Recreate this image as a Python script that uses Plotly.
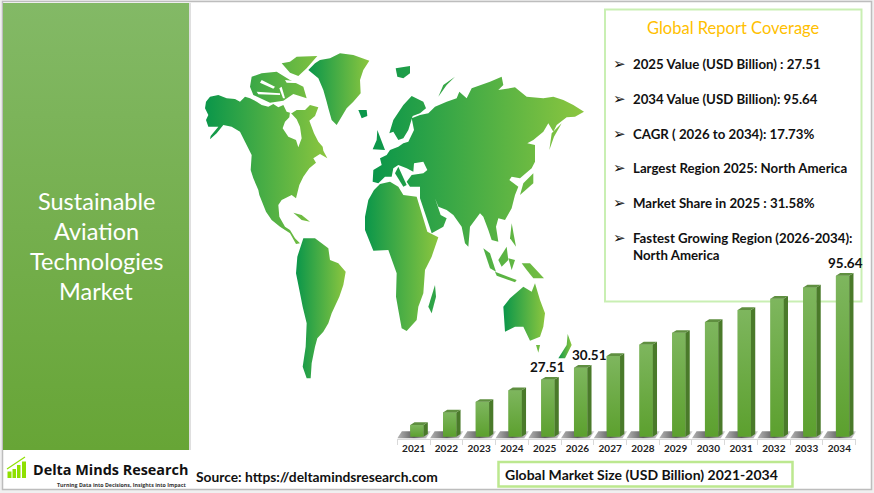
import plotly.graph_objects as go

years = [2021, 2022, 2023, 2024, 2025, 2026, 2027, 2028, 2029, 2030, 2031, 2032, 2033, 2034]
# the picture is not drawn to scale, so these are read from bar heights against the 95.64 bar
bar_values = [6.9, 14.4, 20.7, 27.6, 33.9, 41.0, 47.9, 54.8, 61.7, 68.2, 75.3, 82.0, 88.7, 95.64]
printed_labels = {2025: "27.51", 2026: "30.51", 2034: "95.64"}

title_lines = ["Sustainable", "Aviation", "Technologies", "Market"]
coverage_title = "Global Report Coverage"
coverage_items = ["2025 Value (USD Billion) : 27.51",
                  "2034 Value (USD Billion): 95.64",
                  "CAGR ( 2026 to 2034): 17.73%",
                  "Largest Region 2025: North America",
                  "Market Share in 2025 : 31.58%",
                  "Fastest Growing Region (2026-2034):"]
coverage_tail = "North America"
source_text = "Source: https://deltamindsresearch.com"
size_caption = "Global Market Size (USD Billion) 2021-2034"

# map outlines, traced by hand at 3x over the region starting at (190, 30)
north_america = [(45,235),(48,215),(60,200),(85,195),(110,205),(135,207),(150,215),(165,200),(180,205),(200,215),(215,225),
                 (235,230),(250,222),(265,232),(280,225),(290,245),(305,250),(320,240),(345,240),(360,225),(385,232),(375,258),
                 (358,272),(372,310),(385,335),(398,350),(400,362),(412,385),(390,372),(370,385),(378,398),(358,415),(340,440),
                 (328,465),(318,505),(305,495),(275,510),(265,525),(268,560),(285,590),(300,600),(315,625),(330,640),(318,642),
                 (300,610),(270,590),(245,570),(228,545),(208,495),(205,480),(190,445),(182,420),(185,375),(165,335),(150,305),
                 (125,290),(100,285),(80,310),(60,328),(62,318),(85,290),(55,290),(48,270),(55,255)]
hudson_bay = [(300,246),(320,268),(330,290),(335,325),(325,352),(318,330),(295,320),(278,295),(285,275),(298,262)]
arctic_west = [(185,140),(215,130),(260,125),(300,150),(340,170),(350,205),(310,192),(280,212),(240,218),(190,195),(180,170)]
arctic_cuts = [[(215,150),(255,170),(250,176),(210,158)], [(200,185),(270,190),(270,195),(205,193)],
               [(285,150),(335,155),(335,160),(290,158)], [(275,170),(285,205),(279,205),(268,175)]]
baffin = [(275,100),(300,95),(320,80),(382,78),(350,115),(325,138),(300,128)]
greenland = [(355,120),(375,100),(390,90),(420,85),(450,70),(490,75),(538,92),(520,120),(510,150),(512,190),(490,215),(470,235),
             (440,285),(425,270),(415,235),(410,215),(400,180),(385,145)]
iceland = [(505,240),(530,240),(532,258),(515,265)]
svalbard = [(617,115),(660,108),(660,130),(640,145),(622,140)]
cuba = [(310,548),(335,555),(360,575),(335,570)]
south_america = [(340,625),(375,625),(395,640),(415,655),(420,690),(445,700),(467,725),(460,765),(448,800),(425,850),(415,880),
                 (400,905),(382,925),(375,950),(365,1000),(362,1045),(350,1045),(338,1010),(347,950),(350,880),(338,830),(330,790),
                 (318,730),(322,680)]
africa = [(535,510),(552,480),(570,462),(600,455),(625,470),(640,495),(680,500),(712,605),(745,622),(725,680),(705,720),(700,790),
          (685,830),(680,870),(650,903),(635,895),(625,840),(618,800),(620,730),(595,660),(550,662),(525,600),(525,560)]
madagascar = [(735,765),(738,800),(725,850),(715,830)]
eurasia = [(550,420),(575,405),(570,385),(590,375),(600,360),(625,350),(640,340),(655,335),(672,300),(665,265),(690,255),(715,250),
           (735,230),(770,215),(800,205),(808,185),(830,205),(845,175),(900,155),(935,140),(940,165),(925,180),(975,172),(1010,200),
           (1060,205),(1090,200),(1120,210),(1150,225),(1182,245),(1155,260),(1130,262),(1100,285),(1090,305),(1075,280),(1060,305),
           (1030,330),(1012,340),(1035,345),(1035,395),(1025,415),(990,445),(965,440),(958,450),(985,470),(975,495),(965,535),(945,570),
           (925,565),(918,590),(925,635),(905,630),(895,600),(880,560),(870,550),(840,590),(835,650),(825,640),(815,590),(790,555),
           (770,540),(745,530),(735,505),(752,555),(770,565),(760,590),(725,610),(722,600),(690,505),(690,470),(660,470),(650,455),
           (665,435),(700,430),(712,420),(700,395),(672,400),(670,425),(650,415),(625,405),(610,415),(605,440),(585,440),(565,460),(548,455)]
italy = [(625,410),(650,465),(640,470),(615,430)]
scandinavia = [(598,310),(610,270),(640,225),(665,198),(700,215),(708,235),(690,250),(668,258),(655,300),(640,325),(625,330),(610,305)]
britain = [(562,300),(585,360),(548,358),(560,330)]
novaya = [(745,200),(760,165),(795,140),(770,165)]
sakhalin = [(1078,360),(1085,310),(1115,280),(1092,320)]
japan = [(990,495),(1000,460),(1030,430),(1030,460)]
sumatra = [(880,655),(900,670),(918,725),(900,715)]
borneo = [(925,690),(950,650),(955,690),(935,710)]
java = [(915,725),(980,750),(975,757),(920,737)]
philippines = [(965,580),(978,650),(960,625)]
sulawesi = [(955,685),(975,690),(965,720)]
new_guinea = [(995,700),(1020,700),(1062,745),(1030,745),(1010,720)]
australia = [(940,830),(960,805),(1000,770),(1025,785),(1035,760),(1050,810),(1065,850),(1060,890),(1050,920),(1020,932),(1000,890),
             (975,890),(945,905)]
tasmania = [(1038,945),(1050,945),(1045,968)]
new_zealand = [(1133,912),(1145,945),(1125,985),(1105,985),(1130,945)]

own_gradient = [north_america, greenland, south_america, africa, eurasia, australia, new_zealand]
with_america = [arctic_west, baffin, cuba]
with_eurasia = [iceland, svalbard, madagascar, italy, scandinavia, britain, novaya, sakhalin, japan, sumatra, borneo, java,
                philippines, sulawesi, new_guinea, tasmania]
water_shapes = [hudson_bay] + arctic_cuts

GREEN_L = "#0A964A"
GREEN_R = "#8CC63F"


def to_page(outline):
    xs = [190 + p[0] / 3 for p in outline]
    ys = [30 + p[1] / 3 for p in outline]
    return xs + xs[:1], ys + ys[:1]


def land(outline, span=None):
    xs, ys = to_page(outline)
    grad = dict(type="horizontal", colorscale=[[0, GREEN_L], [1, GREEN_R]])
    if span:
        grad["start"] = span[0]
        grad["stop"] = span[1]
    return go.Scatter(x=xs, y=ys, mode="none", fill="toself", hoverinfo="skip", showlegend=False, fillgradient=grad)


def flat(xs, ys, color, axes=("x", "y")):
    return go.Scatter(x=xs, y=ys, mode="none", fill="toself", fillcolor=color, hoverinfo="skip",
                      showlegend=False, xaxis=axes[0], yaxis=axes[1])


def page_text(x, y, text, size, color="#111111", anchor="left", font="Lato", bold=False):
    label = "<b>" + text + "</b>" if bold else text
    return dict(x=x, y=y, xref="x", yref="y", text=label, showarrow=False, xanchor=anchor, yanchor="middle",
                font=dict(family=font, size=size, color=color))


fig = go.Figure()

# page furniture
fig.add_trace(go.Scatter(x=[3, 189, 189, 3, 3], y=[3, 3, 450, 450, 3], mode="none", fill="toself", hoverinfo="skip",
                         showlegend=False,
                         fillgradient=dict(type="vertical", colorscale=[[0, "#67A536"], [1, "#83B966"]])))
for shape in own_gradient:
    fig.add_trace(land(shape))
for shape in with_america:
    fig.add_trace(land(shape, (205, 330)))
for shape in with_eurasia:
    fig.add_trace(land(shape, (373, 584)))
for shape in water_shapes:
    xs, ys = to_page(shape)
    fig.add_trace(flat(xs, ys, "#FFFFFF"))

# bars, on their own axes so the value scale does the placing
BAR_OFFSET = -0.104
BAR_W = 0.406
DEPTH_X = 0.13
DEPTH_Y = 1.6

for yr in years:
    fig.add_trace(go.Scatter(x=[yr - 0.5, yr + 0.38, yr + 0.52, yr - 0.36, yr - 0.5], y=[-0.9, -0.9, 3.2, 3.2, -0.9],
                             mode="none", fill="toself", hoverinfo="skip", showlegend=False, xaxis="x2", yaxis="y2",
                             fillgradient=dict(type="horizontal", colorscale=[[0, "#B5B5B5"], [0.5, "#5E5E5E"], [1, "#D8D8D8"]])))

fig.add_trace(go.Bar(x=years, y=bar_values, width=BAR_W, offset=BAR_OFFSET, marker=dict(color="#6AA944", line_width=0),
                     hoverinfo="skip", showlegend=False, xaxis="x2", yaxis="y2"))

for yr, val in zip(years, bar_values):
    x0 = yr + BAR_OFFSET
    x1 = x0 + BAR_W
    fig.add_trace(go.Scatter(x=[x0, x1, x1, x0, x0], y=[0, 0, val, val, 0], mode="none", fill="toself",
                             hoverinfo="skip", showlegend=False, xaxis="x2", yaxis="y2",
                             fillgradient=dict(type="vertical", colorscale=[[0, "#5CA02E"], [1, "#7EB65E"]])))
    fig.add_trace(flat([x1, x1 + DEPTH_X, x1 + DEPTH_X, x1, x1], [0, DEPTH_Y, val + DEPTH_Y, val, 0], "#4A7A2A", ("x2", "y2")))
    fig.add_trace(flat([x0, x1, x1 + DEPTH_X, x0 + DEPTH_X, x0], [val, val, val + DEPTH_Y, val + DEPTH_Y, val], "#5F8F40", ("x2", "y2")))

notes = []
for i, line in enumerate(title_lines):
    notes.append(page_text(96, 201 + i * 30, line, 23.5, "#FFFFFF", "center"))

notes.append(page_text(733, 28, coverage_title, 16.5, "#FFC000", "center"))
coverage_y = [64, 99, 134, 168, 203, 238]
for item, y in zip(coverage_items, coverage_y):
    notes.append(page_text(611, y, "➢", 15, "#111111", "left", "DejaVu Sans"))
    notes.append(page_text(631, y, item, 13.25, bold=True))
notes.append(page_text(631, 255, coverage_tail, 13.25, bold=True))

notes.append(page_text(31, 469.5, "Delta Minds Research", 14.4, "#111111", font="Open Sans", bold=True))
notes.append(page_text(188, 484.5, "Turning Data into Decisions, Insights into Impact", 5.3, "#333333", "right", "Open Sans", True))
notes.append(page_text(194, 476, source_text, 13.8, bold=True))
notes.append(page_text(503, 474, size_caption, 14, bold=True))

label_shift = {2025: 3, 2026: 12.5, 2034: 6}
for yr, text in printed_labels.items():
    notes.append(dict(x=yr, y=bar_values[years.index(yr)], xref="x2", yref="y2", text="<b>" + text + "</b>", showarrow=False,
                      xanchor="center", yanchor="bottom", xshift=label_shift[yr], yshift=3,
                      font=dict(family="Lato", size=13.5, color="#111111")))

shapes = [
    dict(type="rect", x0=2.5, x1=871.5, y0=1.5, y1=489.5, line=dict(color="#BDBDBD", width=1.5), fillcolor="#FFFFFF", layer="below"),
    dict(type="line", x0=190, x1=190, y0=3, y1=450, line=dict(color="#D4D4D4", width=1.5), layer="below"),
    dict(type="rect", x0=605, x1=861.5, y0=9.5, y1=301.5, line=dict(color="#C9EFB3", width=2), fillcolor="#FFFFFF", layer="below"),
    dict(type="rect", x0=498.5, x1=792.5, y0=462, y1=486.5, line=dict(color="#BCE88F", width=2.5), fillcolor="#FFFFFF", layer="below"),
]
for x0, x1, top in [(7.5, 11.5, 471.5), (12.5, 16, 469), (17, 20.5, 465), (22, 26, 461.5)]:
    shapes.append(dict(type="rect", x0=x0, x1=x1, y0=top, y1=478, line_width=0, fillcolor="#8FE000"))
shapes.append(dict(type="line", x0=7, x1=25, y0=469, y1=457, line=dict(color="#8FE000", width=1.2)))

fig.update_layout(
    width=874, height=493,
    margin=dict(l=0, r=0, t=0, b=0),
    paper_bgcolor="#F0F0F0",
    plot_bgcolor="rgba(0,0,0,0)",
    showlegend=False,
    annotations=notes,
    shapes=shapes,
    xaxis=dict(range=[0, 874], domain=[0, 1], visible=False, fixedrange=True),
    yaxis=dict(range=[493, 0], domain=[0, 1], visible=False, fixedrange=True),
    xaxis2=dict(range=[2020.5, 2034.5], domain=[397.3 / 874, 855.7 / 874], anchor="y2", showgrid=False, zeroline=False,
                tickmode="array", tickvals=years, ticktext=["<b>%d</b>" % y for y in years], ticks="",
                tickfont=dict(family="Lato", size=10, color="#222222"), showline=True, linecolor="#D9D9D9", linewidth=1,
                minor=dict(ticks="outside", tick0=2020.5, dtick=1, ticklen=5, tickcolor="#D9D9D9", showgrid=False)),
    yaxis2=dict(range=[-1.4, 100], domain=[(493 - 439) / 493, (493 - 268.4) / 493], anchor="x2", visible=False, showgrid=False, zeroline=False),
)

fig.write_html("out.html", config={"displayModeBar": False}, post_script="document.body.style.margin='0';")
